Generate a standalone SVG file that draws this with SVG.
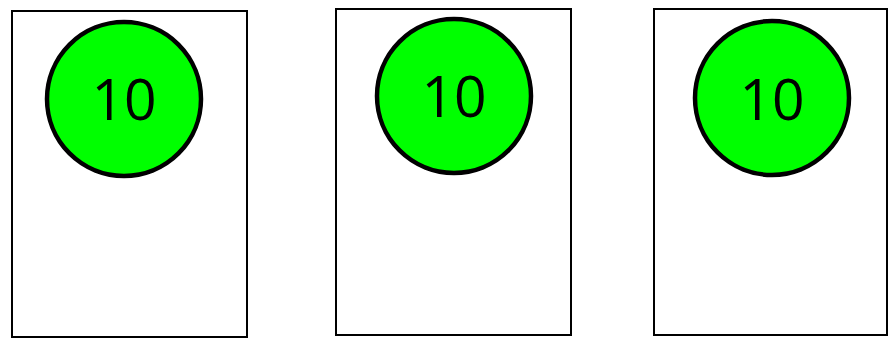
<svg xmlns="http://www.w3.org/2000/svg" width="894" height="340" viewBox="0 0 894 340">
<style>
.box{fill:#fff;stroke:#000;stroke-width:2}
.c{fill:#00ff00;stroke:#000;stroke-width:4.5}
.t{font-family:"Open Sans","Noto Sans",sans-serif;font-size:57px;text-anchor:middle;fill:#000}
</style>
<rect width="894" height="340" fill="#fff"/>
<g id="node1">
<rect class="box" x="12" y="11" width="235" height="326"/>
<circle class="c" cx="124" cy="99" r="77"/>
<text class="t" x="124" y="120">10</text>
</g>
<g id="node2">
<rect class="box" x="336" y="9" width="235" height="326"/>
<circle class="c" cx="454" cy="96" r="77"/>
<text class="t" x="454" y="117">10</text>
</g>
<g id="node3">
<rect class="box" x="654" y="9" width="233" height="326"/>
<circle class="c" cx="772" cy="98" r="77"/>
<text class="t" x="772" y="120">10</text>
</g>
<g id="connectors"/>
</svg>
